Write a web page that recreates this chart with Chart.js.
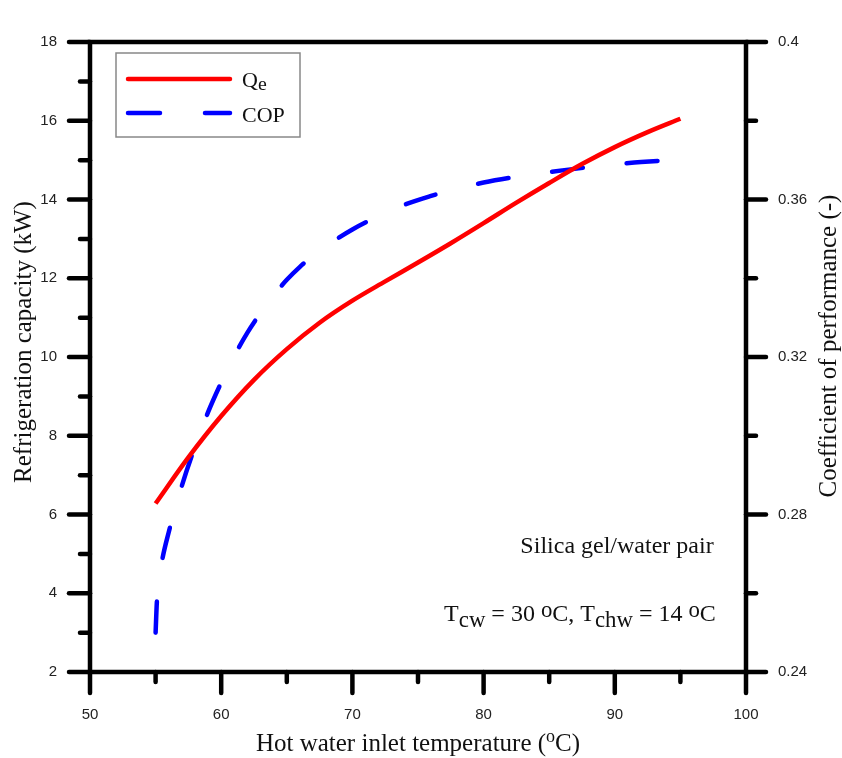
<!DOCTYPE html>
<html>
<head>
<meta charset="utf-8">
<title>Refrigeration capacity and COP vs hot water inlet temperature</title>
<script src="https://cdn.jsdelivr.net/npm/chart.js@4.4.1/dist/chart.umd.min.js"></script>
<style>
  html, body { margin: 0; padding: 0; background: #fff; }
  canvas { display: block; }
</style>
</head>
<body>
<canvas id="chart" width="842" height="758"></canvas>
<script>
// refrigeration capacity Qe (kW), left axis
const qeTemps = [55, 57.5, 60, 62.5, 65, 67.5, 70, 72.5, 75, 77.5, 80, 82.5, 85, 87.5, 90, 92.5, 95];
const qeValues = [6.28, 7.45, 8.5, 9.42, 10.2, 10.87, 11.43, 11.92, 12.4, 12.89, 13.4, 13.92, 14.42, 14.9, 15.33, 15.71, 16.05];

// COP (-), right axis
const copTemps = [55, 55.1, 55.3, 55.5, 56, 56.5, 57, 58, 59, 60, 61, 62, 63, 64, 65, 66, 67, 68, 70, 72, 74, 76, 78, 80, 82, 84, 86, 88, 90, 92, 94, 95];
const copValues = [0.250, 0.258, 0.264, 0.2684, 0.2755, 0.2815, 0.2873, 0.2972, 0.306, 0.3135, 0.3203, 0.3262, 0.3312, 0.3357, 0.3396, 0.3429, 0.3457, 0.3482, 0.3524, 0.3558, 0.3587, 0.3609, 0.3628, 0.3643, 0.3655, 0.3665, 0.3674, 0.3682, 0.3689, 0.3695, 0.3699, 0.3700];

const xTicks = [50, 60, 70, 80, 90, 100];
const xMinorTicks = [55, 65, 75, 85, 95];
const leftTicks = [2, 4, 6, 8, 10, 12, 14, 16, 18];
const leftMinorTicks = [3, 5, 7, 9, 11, 13, 15, 17];
const rightTicks = [0.24, 0.28, 0.32, 0.36, 0.4];
const rightTickLabels = ['0.24', '0.28', '0.32', '0.36', '0.4'];
const rightMinorTicks = [0.26, 0.30, 0.34, 0.38];

const SERIF = '"Liberation Serif", "Times New Roman", serif';
const SANS = '"Liberation Sans", Arial, sans-serif';

function toPoints(xs, ys) {
    return xs.map((x, i) => ({ x: x, y: ys[i] }));
}

// draws a line of text made of pieces, some of them sub/superscripts
function richText(ctx, parts, x, y, size, align) {
    const items = parts.map(p => typeof p === 'string' ? { t: p, s: 1, dy: 0 } : p);
    let w = 0;
    items.forEach(it => {
        ctx.font = (size * it.s) + 'px ' + SERIF;
        it.w = ctx.measureText(it.t).width;
        w += it.w;
    });
    let cx = align === 'center' ? x - w / 2 : (align === 'right' ? x - w : x);
    ctx.textAlign = 'left';
    ctx.textBaseline = 'alphabetic';
    items.forEach(it => {
        ctx.font = (size * it.s) + 'px ' + SERIF;
        ctx.fillText(it.t, cx, y + it.dy * size);
        cx += it.w;
    });
}

const sup = t => ({ t: t, s: 0.72, dy: -0.36 });
const degNote = { t: 'o', s: 0.95, dy: -0.16 };
const sub = t => ({ t: t, s: 0.95, dy: 0.26 });

const framePlugin = {
    id: 'frame',
    afterDraw(chart) {
        const ctx = chart.ctx;
        const a = chart.chartArea;
        const sx = chart.scales.x, sy = chart.scales.y, sy1 = chart.scales.y1;
        ctx.save();
        ctx.strokeStyle = '#000';
        ctx.lineWidth = 4.5;
        ctx.lineJoin = 'miter';
        ctx.strokeRect(a.left, a.top, a.right - a.left, a.bottom - a.top);

        ctx.lineCap = 'round';
        const seg = (x1, y1, x2, y2) => {
            ctx.beginPath(); ctx.moveTo(x1, y1); ctx.lineTo(x2, y2); ctx.stroke();
        };
        leftTicks.forEach(v => { const y = sy.getPixelForValue(v); seg(a.left - 21, y, a.left, y); });
        leftMinorTicks.forEach(v => { const y = sy.getPixelForValue(v); seg(a.left - 10, y, a.left, y); });
        rightTicks.forEach(v => { const y = sy1.getPixelForValue(v); seg(a.right, y, a.right + 20, y); });
        rightMinorTicks.forEach(v => { const y = sy1.getPixelForValue(v); seg(a.right, y, a.right + 10, y); });
        xTicks.forEach(v => { const x = sx.getPixelForValue(v); seg(x, a.bottom, x, a.bottom + 21); });
        xMinorTicks.forEach(v => { const x = sx.getPixelForValue(v); seg(x, a.bottom, x, a.bottom + 10); });

        // axis titles
        ctx.fillStyle = '#111';
        richText(ctx, ['Hot water inlet temperature (', sup('o'), 'C)'], (a.left + a.right) / 2, 751, 25, 'center');
        ctx.save();
        ctx.translate(31, 342);
        ctx.rotate(-Math.PI / 2);
        richText(ctx, ['Refrigeration capacity (kW)'], 0, 0, 25, 'center');
        ctx.restore();
        ctx.save();
        ctx.translate(836, 346);
        ctx.rotate(-Math.PI / 2);
        richText(ctx, ['Coefficient of performance (-)'], 0, 0, 25, 'center');
        ctx.restore();

        // notes
        richText(ctx, ['Silica gel/water pair'], 617, 553, 24, 'center');
        richText(ctx, ['T', sub('cw'), ' = 30 ', degNote, 'C, T', sub('chw'), ' = 14 ', degNote, 'C'], 580, 621, 24, 'center');

        // legend
        ctx.lineWidth = 1.5;
        ctx.strokeStyle = '#888';
        ctx.strokeRect(116, 53, 184, 84);
        const ds = chart.data.datasets;
        ctx.lineWidth = 4.5;
        ctx.lineCap = 'round';
        ctx.strokeStyle = ds[0].borderColor;
        seg(128, 79, 230, 79);
        ctx.strokeStyle = ds[1].borderColor;
        seg(128, 113, 160, 113);
        seg(205, 113, 230, 113);
        ctx.fillStyle = '#111';
        richText(ctx, ['Q', { t: 'e', s: 0.9, dy: 0.12 }], 242, 87, 22, 'left');
        richText(ctx, ['COP'], 242, 122, 22, 'left');
        ctx.restore();
    }
};

const tickFont = { family: SANS, size: 15 };

new Chart(document.getElementById('chart'), {
    type: 'line',
    data: {
        datasets: [{
            label: 'Qe',
            data: toPoints(qeTemps, qeValues),
            yAxisID: 'y',
            borderColor: '#ff0000',
            borderWidth: 4.5,
            pointRadius: 0,
            cubicInterpolationMode: 'monotone',
            fill: false
        }, {
            label: 'COP',
            data: toPoints(copTemps, copValues),
            yAxisID: 'y1',
            borderColor: '#0000ff',
            borderWidth: 4.5,
            borderDash: [31, 44],
            borderCapStyle: 'round',
            pointRadius: 0,
            cubicInterpolationMode: 'monotone',
            fill: false
        }]
    },
    options: {
        responsive: false,
        devicePixelRatio: 1,
        animation: false,
        layout: { padding: { top: 18, left: 0, right: 0, bottom: 0 } },
        plugins: {
            legend: { display: false },
            title: { display: false },
            tooltip: { enabled: false }
        },
        scales: {
            x: {
                type: 'linear',
                position: 'bottom',
                min: 50,
                max: 100,
                afterBuildTicks: s => { s.ticks = xTicks.map(v => ({ value: v })); },
                afterFit: s => { s.height = 86; },
                grid: { display: false, drawTicks: false },
                border: { display: false },
                ticks: { font: tickFont, color: '#222', padding: 34, maxRotation: 0 }
            },
            y: {
                type: 'linear',
                position: 'left',
                min: 2,
                max: 18,
                afterBuildTicks: s => { s.ticks = leftTicks.map(v => ({ value: v })); },
                afterFit: s => { s.width = 90; },
                grid: { display: false, drawTicks: false },
                border: { display: false },
                ticks: { font: tickFont, color: '#222', padding: 33 }
            },
            y1: {
                type: 'linear',
                position: 'right',
                min: 0.24,
                max: 0.4,
                afterBuildTicks: s => { s.ticks = rightTicks.map(v => ({ value: v })); },
                afterFit: s => { s.width = 96; },
                grid: { display: false, drawTicks: false },
                border: { display: false },
                ticks: {
                    font: tickFont,
                    color: '#222',
                    padding: 32,
                    callback: v => {
                        const i = rightTicks.findIndex(t => Math.abs(t - v) < 1e-6);
                        return i >= 0 ? rightTickLabels[i] : '';
                    }
                }
            }
        }
    },
    plugins: [framePlugin]
});
</script>
</body>
</html>
